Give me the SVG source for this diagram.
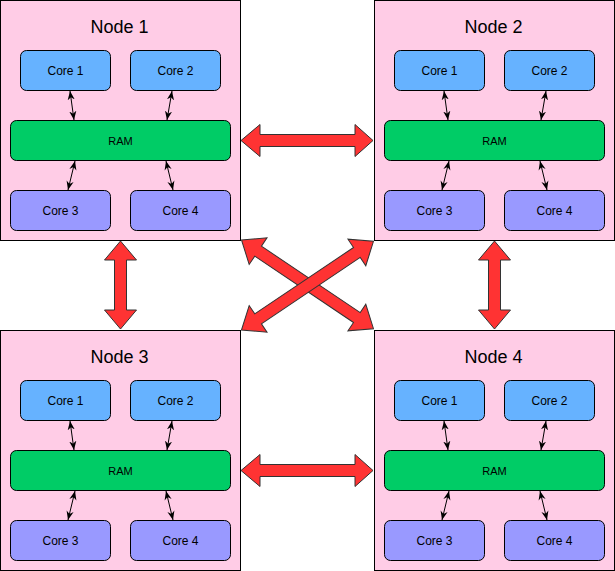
<svg xmlns="http://www.w3.org/2000/svg" width="615" height="571" viewBox="0 0 615 571">
<style>
.node{fill:#FFCCE6;stroke:#000;stroke-width:1}
.c12{fill:#66B2FF;stroke:#000;stroke-width:1}
.c34{fill:#9999FF;stroke:#000;stroke-width:1}
.ram{fill:#00CC66;stroke:#000;stroke-width:1}
.title{font-family:"Liberation Sans",Arial,sans-serif;font-size:18px;fill:#000;text-anchor:middle}
.lbl{font-family:"Liberation Sans",Arial,sans-serif;font-size:12px;fill:#000;text-anchor:middle}
.rl{font-family:"Liberation Sans",Arial,sans-serif;font-size:11px;fill:#000;text-anchor:middle}
.link{stroke:#000;stroke-width:1;fill:none;marker-start:url(#ah);marker-end:url(#ah)}
.big{fill:#FF3333;stroke:#333;stroke-width:1;stroke-linejoin:miter}
</style>
<defs>
<marker id="ah" viewBox="0 0 10 8" refX="10" refY="4" markerWidth="9" markerHeight="8" markerUnits="userSpaceOnUse" orient="auto-start-reverse">
<path d="M0,0 L10,4 L0,8 L3,4 z" fill="#000"/>
</marker>
<g id="inner">
<rect class="c12" x="20.5" y="50.5" width="90" height="40" rx="6"/>
<text class="lbl" x="65.5" y="74.5">Core 1</text>
<rect class="c12" x="130.5" y="50.5" width="90" height="40" rx="6"/>
<text class="lbl" x="175.5" y="74.5">Core 2</text>
<rect class="ram" x="10.5" y="120.5" width="220" height="40" rx="6"/>
<text class="rl" x="120.5" y="144.5">RAM</text>
<rect class="c34" x="10.5" y="190.5" width="100" height="40" rx="6"/>
<text class="lbl" x="60.5" y="214.5">Core 3</text>
<rect class="c34" x="130.5" y="190.5" width="100" height="40" rx="6"/>
<text class="lbl" x="180.5" y="214.5">Core 4</text>
<line class="link" x1="70" y1="91" x2="74" y2="120"/>
<line class="link" x1="172" y1="91" x2="167" y2="120"/>
<line class="link" x1="75" y1="161" x2="68" y2="190"/>
<line class="link" x1="166" y1="161" x2="173" y2="190"/>
</g>
</defs>
<rect width="615" height="571" fill="#fff"/>
<g id="node1">
<rect class="node" x="0.5" y="0.5" width="240" height="240"/>
<text class="title" x="119.5" y="33">Node 1</text>
<use href="#inner"/>
</g>
<g id="node2" transform="translate(374,0)">
<rect class="node" x="0.5" y="0.5" width="240" height="240"/>
<text class="title" x="119.5" y="33">Node 2</text>
<use href="#inner"/>
</g>
<g id="node3" transform="translate(0,330)">
<rect class="node" x="0.5" y="0.5" width="240" height="240"/>
<text class="title" x="119.5" y="33">Node 3</text>
<use href="#inner"/>
</g>
<g id="node4" transform="translate(374,330)">
<rect class="node" x="0.5" y="0.5" width="240" height="240"/>
<text class="title" x="119.5" y="33">Node 4</text>
<use href="#inner"/>
</g>
<g id="connectors">
<polygon class="big" points="241,140.5 260,124.5 260,134.5 355,134.5 355,124.5 373,140.5 355,156.5 355,146.5 260,146.5 260,156.5"/>
<polygon class="big" points="241,470.5 260,454.5 260,464.5 355,464.5 355,454.5 373,470.5 355,486.5 355,476.5 260,476.5 260,486.5"/>
<polygon class="big" points="120.5,241 136.5,260 126.5,260 126.5,310 136.5,310 120.5,329 104.5,310 114.5,310 114.5,260 104.5,260"/>
<polygon class="big" points="494.5,241 510.5,260 500.5,260 500.5,310 510.5,310 494.5,329 478.5,310 488.5,310 488.5,260 478.5,260"/>
<g transform="translate(241.5,240) rotate(33.9)">
<polygon class="big" points="0,0 20,-16 20,-6 139,-6 139,-16 159,0 139,16 139,6 20,6 20,16"/>
</g>
<g transform="translate(241.5,330) rotate(-33.9)">
<polygon class="big" points="0,0 20,-16 20,-6 139,-6 139,-16 159,0 139,16 139,6 20,6 20,16"/>
</g>
</g>
</svg>
